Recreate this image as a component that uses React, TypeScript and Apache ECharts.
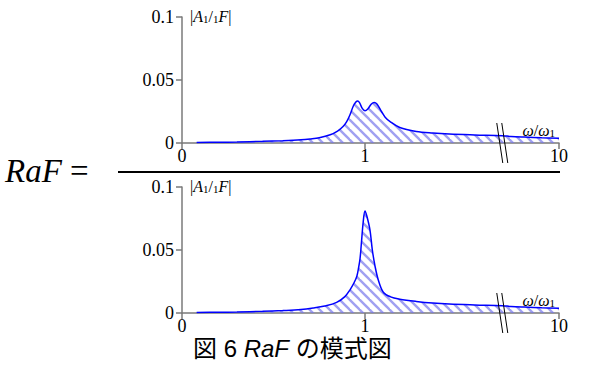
import React, { useEffect, useRef } from "react";
import * as echarts from "echarts";

// ---- data ----
const topOmega = [0.08, 0.2, 0.3, 0.44, 0.55, 0.65, 0.7, 0.75, 0.81, 0.85, 0.88, 0.9, 0.918, 0.935, 0.95, 0.96, 0.97, 0.985, 1.0, 1.015, 1.035, 1.05, 1.065, 1.09, 1.11, 1.137, 1.19, 1.28, 1.37, 1.46, 1.6, 1.75, 3, 5, 7.5, 10];
const topAmp = [0.0004, 0.0006, 0.0008, 0.0013, 0.0018, 0.0025, 0.0032, 0.0042, 0.0066, 0.0095, 0.0131, 0.017, 0.0224, 0.029, 0.0325, 0.0334, 0.032, 0.0275, 0.0256, 0.027, 0.031, 0.0322, 0.031, 0.025, 0.0205, 0.017, 0.0123, 0.0092, 0.0079, 0.0071, 0.0064, 0.0058, 0.0052, 0.0047, 0.0042, 0.0038];
const bottomOmega = [0.08, 0.2, 0.3, 0.44, 0.55, 0.65, 0.717, 0.78, 0.845, 0.89, 0.918, 0.94, 0.955, 0.965, 0.973, 0.98, 0.99, 1.0, 1.01, 1.027, 1.04, 1.055, 1.073, 1.1, 1.14, 1.19, 1.28, 1.37, 1.46, 1.6, 1.75, 3, 5, 7.5, 10];
const bottomAmp = [0.0004, 0.0006, 0.0008, 0.0013, 0.0019, 0.0027, 0.0039, 0.0055, 0.0084, 0.013, 0.0184, 0.024, 0.029, 0.036, 0.0434, 0.055, 0.072, 0.081, 0.077, 0.066, 0.05, 0.037, 0.026, 0.0165, 0.0128, 0.011, 0.0092, 0.0079, 0.0071, 0.0064, 0.0058, 0.0052, 0.0047, 0.0042, 0.0038];
const xTickValues = [0, 1, 10];
const yTickLabels = ["0", "0.05", "0.1"];
const BREAK_AT = 1.75; // omega where the axis is broken
const AXIS_END = 2.06; // display position of omega = 10
const MAX_OMEGA = 10;

// map omega to the broken-axis display coordinate
const toAxis = (w: number) =>
  w <= BREAK_AT ? w : BREAK_AT + ((w - BREAK_AT) / (MAX_OMEGA - BREAK_AT)) * (AXIS_END - BREAK_AT);

const serif = "Liberation Serif";
const sans = "Liberation Sans, Noto Sans CJK JP";

function makeHatch() {
  const c = document.createElement("canvas");
  c.width = 10;
  c.height = 10;
  const ctx = c.getContext("2d")!;
  ctx.strokeStyle = "rgba(120,120,235,0.7)";
  ctx.lineWidth = 2.4;
  for (const k of [-10, 0, 10]) {
    ctx.beginPath();
    ctx.moveTo(-2, -2 + k);
    ctx.lineTo(12, 12 + k);
    ctx.stroke();
  }
  return c;
}

export default function App() {
  const ref = useRef<HTMLDivElement>(null);
  useEffect(() => {
    if (!ref.current) return;
    const chart = echarts.init(ref.current, undefined, { renderer: "svg" });
    const hatch = makeHatch();
    const pattern: any = { image: hatch, repeat: "repeat", imageWidth: 10, imageHeight: 10 };

    const grids = [
      { left: 182, width: 377, top: 17, height: 126 },
      { left: 182, width: 377, top: 187, height: 126 },
    ];
    const axisColor = "#7a7a7a";
    const tickPos = xTickValues.map(toAxis);
    const xAxes = grids.map((_, i) => ({
      type: "value",
      gridIndex: i,
      min: 0,
      max: AXIS_END,
      splitLine: { show: false },
      axisLine: { show: true, onZero: false, lineStyle: { color: axisColor, width: 1.5 } },
      axisTick: {
        show: true,
        length: 6,
        customValues: tickPos,
        lineStyle: { color: axisColor, width: 1.5 },
      },
      axisLabel: {
        customValues: tickPos,
        formatter: (v: number) => {
          const idx = tickPos.findIndex((p) => Math.abs(p - v) < 1e-6);
          return idx >= 0 ? String(xTickValues[idx]) : "";
        },
        fontFamily: serif,
        fontSize: 18,
        color: "#000",
        margin: 4,
      },
    }));
    const yAxes = grids.map((_, i) => ({
      type: "value",
      gridIndex: i,
      min: 0,
      max: 0.1,
      interval: 0.05,
      splitLine: { show: false },
      axisLine: { show: true, lineStyle: { color: axisColor, width: 1.5 } },
      axisTick: { show: true, length: 6, lineStyle: { color: axisColor, width: 1.5 } },
      axisLabel: {
        formatter: (v: number) => yTickLabels[Math.round(v / 0.05)] ?? "",
        fontFamily: serif,
        fontSize: 18,
        color: "#000",
        margin: 8,
      },
    }));

    const curves = [
      { omega: topOmega, amp: topAmp },
      { omega: bottomOmega, amp: bottomAmp },
    ];
    const series: any[] = curves.map((c, i) => ({
      type: "line",
      xAxisIndex: i,
      yAxisIndex: i,
      data: c.omega.map((w, j) => [toAxis(w), c.amp[j]]),
      showSymbol: false,
      smooth: 0.35,
      lineStyle: { color: "#0000ff", width: 1.5 },
      areaStyle: { color: pattern, opacity: 1, origin: 0 },
      z: 3,
    }));
    grids.forEach((_, i) => {
      series.push({
        type: "custom",
        xAxisIndex: i,
        yAxisIndex: i,
        clip: false,
        z: 5,
        data: [[BREAK_AT, 0]],
        renderItem: (params: any, api: any) => {
          const p = api.coord([api.value(0), api.value(1)]);
          const mk = (dx: number) => ({
            type: "line",
            shape: { x1: p[0] + dx - 3, y1: p[1] - 20, x2: p[0] + dx + 3, y2: p[1] + 20 },
            style: { stroke: "#000", lineWidth: 1 },
          });
          return { type: "group", children: [mk(-2.5), mk(2.5)] };
        },
      });
    });

    const richSerif = {
      n: { fontFamily: serif, fontSize: 16, fill: "#000" },
      i: { fontFamily: serif, fontSize: 16, fontStyle: "italic", fill: "#000" },
      s: { fontFamily: serif, fontSize: 11, fill: "#000", verticalAlign: "bottom", padding: [6, 0, 0, 0] },
    };
    const ampLabel = (top: number) => ({
      type: "text",
      left: 190,
      top,
      style: { text: "{n||}{i|A}{s|1}{n|/}{s|1}{i|F}{n||}", rich: richSerif },
    });
    const omegaLabel = (top: number) => ({
      type: "text",
      right: 46,
      top,
      style: { text: "{i|ω}{n|/}{i|ω}{s|1}", rich: richSerif },
    });

    chart.setOption({
      animation: false,
      backgroundColor: "#fff",
      textStyle: { fontFamily: serif },
      grid: grids,
      xAxis: xAxes,
      yAxis: yAxes,
      series,
      graphic: [
        ampLabel(8),
        ampLabel(178),
        omegaLabel(122),
        omegaLabel(292),
        {
          type: "line",
          shape: { x1: 118, y1: 172, x2: 560, y2: 172 },
          style: { stroke: "#000", lineWidth: 2 },
        },
        {
          type: "text",
          left: 5,
          top: 154,
          style: {
            text: "{i|RaF}{n| =}",
            rich: {
              i: { fontFamily: serif, fontSize: 33, fontStyle: "italic", fill: "#000" },
              n: { fontFamily: serif, fontSize: 33, fill: "#000" },
            },
          },
        },
        {
          type: "text",
          left: 193,
          top: 336,
          style: {
            text: "{a|図 6 }{i|RaF}{a| の模式図}",
            rich: {
              a: { fontFamily: sans, fontSize: 24, fill: "#000" },
              i: { fontFamily: sans, fontSize: 24, fontStyle: "italic", fill: "#000" },
            },
          },
        },
      ],
    });
    return () => chart.dispose();
  }, []);
  return <div ref={ref} style={{ position: "fixed", left: 0, top: 0, width: 601, height: 365 }} />;
}
